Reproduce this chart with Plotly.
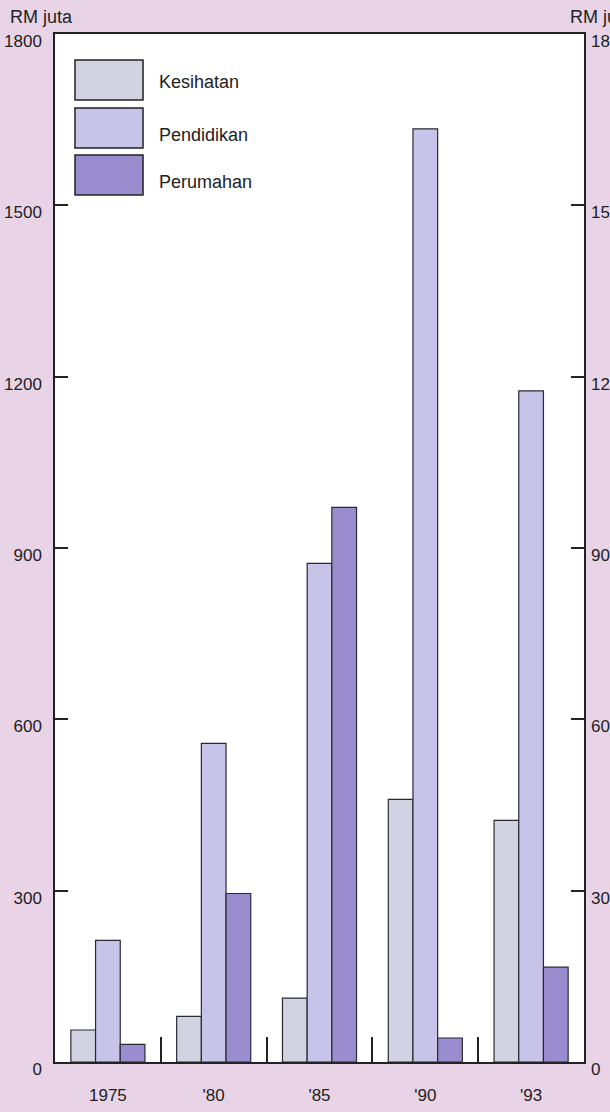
import plotly.graph_objects as go

years = ["1975", "'80", "'85", "'90", "'93"]
series_names = ["Kesihatan", "Pendidikan", "Perumahan"]
kesihatan = [56, 80, 112, 460, 423]
pendidikan = [213, 558, 873, 1634, 1175]
perumahan = [31, 295, 971, 42, 166]
y_ticks = [0, 300, 600, 900, 1200, 1500, 1800]
unit_label = "RM juta"

colors = ["#d3d2e2", "#c8c3e8", "#9a8dcf"]
values = [kesihatan, pendidikan, perumahan]
bg = "#e8d4e6"
ink = "#222222"
font_family = "Liberation Sans, Arial, sans-serif"

fig = go.Figure()
for name, vals, col in zip(series_names, values, colors):
    fig.add_trace(go.Bar(
        x=years, y=vals, name=name,
        marker=dict(color=col, line=dict(color="#2a2a33", width=1.2)),
        showlegend=False,
    ))
# empty trace to activate the right-hand axis
fig.add_trace(go.Bar(x=years, y=[None]*len(years), yaxis="y2", showlegend=False, hoverinfo="skip"))

# custom legend (large swatches)
box_tops = [0.9747, 0.928, 0.8823]
box_h = 0.039
text_y = [0.9536, 0.9018, 0.8563]
for name, col, top, ty in zip(series_names, colors, box_tops, text_y):
    fig.add_shape(type="rect", xref="paper", yref="paper",
                  x0=0.0378, x1=0.1664, y0=top - box_h, y1=top,
                  fillcolor=col, line=dict(color=ink, width=1.5), layer="above")
    fig.add_annotation(xref="paper", yref="paper", x=0.1928, y=ty,
                       xanchor="left", yanchor="middle", text=name, showarrow=False,
                       font=dict(size=18, color=ink, family=font_family))

fig.add_annotation(xref="paper", yref="paper", x=-0.0888, y=1.0165,
                   xanchor="left", yanchor="middle", text=unit_label, showarrow=False,
                   font=dict(size=18, color=ink, family=font_family))
fig.add_annotation(xref="paper", yref="paper", x=0.9698, y=1.0165,
                   xanchor="left", yanchor="middle", text=unit_label, showarrow=False,
                   font=dict(size=18, color=ink, family=font_family))

fig.update_layout(
    width=610, height=1112, autosize=False,
    margin=dict(l=55, r=26, t=34, b=50),
    paper_bgcolor=bg, plot_bgcolor="white",
    barmode="group", bargap=0.30, bargroupgap=0,
    font=dict(family=font_family, size=17, color=ink),
    xaxis=dict(
        type="category", range=[-0.5, 4.5], automargin=False,
        showline=True, linecolor=ink, linewidth=1.5, mirror=True,
        ticks="inside", ticklen=25, tickwidth=1.5, tickcolor=ink,
        tickson="boundaries", showgrid=False, zeroline=False,
        ticklabelstandoff=17,
        tickfont=dict(size=17, color=ink, family=font_family),
    ),
    yaxis=dict(
        range=[0, 1800], tickvals=y_ticks, automargin=False,
        showline=True, linecolor=ink, linewidth=1.5, mirror=True,
        ticks="inside", ticklen=13, tickwidth=1.5, tickcolor=ink,
        showgrid=False, zeroline=False,
        ticklabelshift=7, ticklabelstandoff=8,
        tickfont=dict(size=17, color=ink, family=font_family),
    ),
    yaxis2=dict(
        range=[0, 1800], tickvals=y_ticks, overlaying="y", side="right",
        automargin=False,
        showline=False, ticks="inside", ticklen=13, tickwidth=1.5, tickcolor=ink,
        showgrid=False, zeroline=False,
        ticklabelshift=7, ticklabelstandoff=6,
        tickfont=dict(size=17, color=ink, family=font_family),
    ),
)

fig.write_html(
    "out.html",
    config={"displayModeBar": False},
    post_script="document.body.style.margin='0';document.body.style.background='" + bg + "';",
)
